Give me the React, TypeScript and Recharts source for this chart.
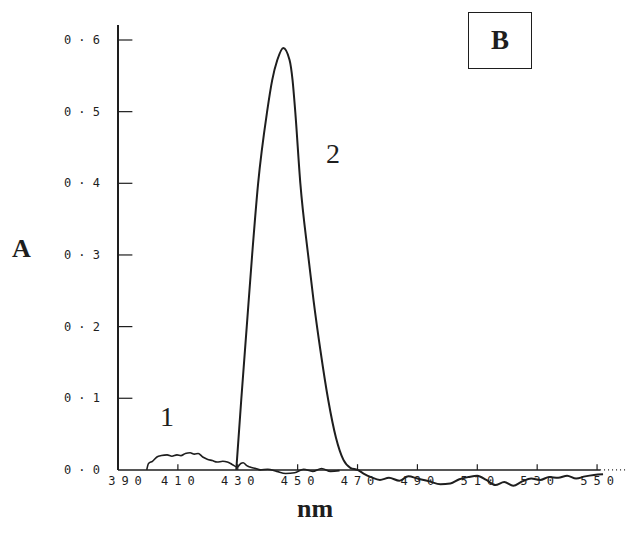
import { LineChart, Line, XAxis, YAxis, ReferenceLine } from "recharts";

// wavelength ticks (nm) and absorbance ticks
const xTicks = [390, 410, 430, 450, 470, 490, 510, 530, 550];
const yTicks = [0, 0.1, 0.2, 0.3, 0.4, 0.5, 0.6];
const yTickLabels = ["0 · 0", "0 · 1", "0 · 2", "0 · 3", "0 · 4", "0 · 5", "0 · 6"];

// curve 1 (low band)
const curve1Nm = [
  399.6, 400.2, 401.5, 403, 404.5, 406.4, 408, 409.7, 411, 412.5, 414.1, 415.5,
  416.8, 418.3, 419.8, 421.5, 423.1, 425, 426.5, 428, 429.8, 431, 431.8, 433,
  434.1, 436, 437.5, 440, 443, 446, 449, 452, 455, 458, 461, 464,
];
const curve1Abs = [
  0, 0.009, 0.012, 0.018, 0.02, 0.021, 0.019, 0.021, 0.02, 0.023, 0.024, 0.022,
  0.023, 0.018, 0.015, 0.013, 0.011, 0.012, 0.011, 0.008, 0.004, 0.009, 0.01, 0.006,
  0.004, 0.002, 0, 0.001, -0.002, -0.005, -0.004, 0.001, -0.002, 0.002, -0.002, -0.001,
];

// curve 2 (main peak)
const curve2Nm = [
  429.5, 431.2, 433, 434.8, 436.8, 439.8, 441.5, 443.2, 445.2, 447.3, 448.3, 449.2,
  450.9, 453.5, 455.3, 457.6, 460.2, 462.8, 465.3, 467.6, 470, 472, 474.5, 477.5,
  480.5, 484, 487, 490, 494, 497.7, 501, 504, 507, 510, 513, 516, 519, 522, 525,
  528, 531, 534, 537, 540, 543, 546, 549, 552,
];
const curve2Abs = [
  0, 0.1, 0.2, 0.3, 0.4, 0.5, 0.544, 0.572, 0.589, 0.572, 0.544, 0.5,
  0.4, 0.3, 0.237, 0.167, 0.098, 0.045, 0.014, 0.003, 0, -0.005, -0.01, -0.014,
  -0.011, -0.015, -0.009, -0.012, -0.016, -0.02, -0.019, -0.013, -0.01, -0.008, -0.014, -0.021, -0.017, -0.022, -0.016,
  -0.012, -0.014, -0.01, -0.011, -0.008, -0.012, -0.009, -0.007, -0.006,
];

const curve1 = curve1Nm.map((x, i) => ({ x, a: curve1Abs[i] }));
const curve2 = curve2Nm.map((x, i) => ({ x, a: curve2Abs[i] }));

const INK = "#1e1e1e";
const TICK_FONT = "'DejaVu Sans Mono', 'Liberation Mono', monospace";

function XTick(props: any) {
  const { x, y, payload } = props;
  const shift = payload.value === 390 ? 7 : 0;
  return (
    <text
      x={x + shift + 3}
      y={y - 14}
      textAnchor="middle"
      dominantBaseline="central"
      fontFamily={TICK_FONT}
      fontSize={12}
      letterSpacing={6}
      fill={INK}
    >
      {payload.value}
    </text>
  );
}

function YTick(props: any) {
  const { x, y, index } = props;
  return (
    <text
      x={x - 18}
      y={y}
      textAnchor="end"
      dominantBaseline="central"
      fontFamily={TICK_FONT}
      fontSize={12}
      fill={INK}
    >
      {yTickLabels[index]}
    </text>
  );
}

export default function App() {
  return (
    <div
      style={{
        position: "absolute",
        left: 0,
        top: 0,
        width: 630,
        height: 541,
        background: "#fff",
        fontFamily: "'Liberation Serif', serif",
        color: INK,
      }}
    >
      <LineChart
        width={630}
        height={541}
        margin={{ top: 18.5, right: 3, bottom: 0, left: 0 }}
      >
        <XAxis
          type="number"
          dataKey="x"
          domain={[390, 560]}
          ticks={xTicks}
          axisLine={false}
          tickLine={false}
          tickSize={0}
          tickMargin={0}
          height={46}
          tick={<XTick />}
          interval={0}
        />
        <YAxis
          type="number"
          domain={[-0.035, 0.63]}
          ticks={yTicks}
          axisLine={false}
          tickLine={false}
          tickSize={0}
          tickMargin={0}
          width={118}
          tick={<YTick />}
          interval={0}
        />
        {/* axes drawn as segments so they stop at zero */}
        <ReferenceLine
          segment={[{ x: 390, y: 0 }, { x: 390, y: 0.621 }]}
          stroke={INK}
          strokeWidth={2}
        />
        <ReferenceLine
          segment={[{ x: 390, y: 0 }, { x: 551, y: 0 }]}
          stroke={INK}
          strokeWidth={1.5}
        />
        <ReferenceLine
          segment={[{ x: 551, y: 0 }, { x: 560, y: 0 }]}
          stroke={INK}
          strokeWidth={1.2}
          strokeDasharray="1 3"
        />
        {xTicks.slice(1).map((v) => (
          <ReferenceLine
            key={`xt-${v}`}
            segment={[{ x: v, y: 0 }, { x: v, y: 0.008 }]}
            stroke={INK}
            strokeWidth={1.2}
          />
        ))}
        {yTicks.slice(1).map((v) => (
          <ReferenceLine
            key={`yt-${v}`}
            segment={[{ x: 390, y: v }, { x: 394.8, y: v }]}
            stroke={INK}
            strokeWidth={1.2}
          />
        ))}
        <Line
          data={curve1}
          dataKey="a"
          type="monotone"
          stroke={INK}
          strokeWidth={1.6}
          dot={false}
          isAnimationActive={false}
        />
        <Line
          data={curve2}
          dataKey="a"
          type="monotone"
          stroke={INK}
          strokeWidth={2}
          dot={false}
          isAnimationActive={false}
        />
      </LineChart>

      <div style={{ position: "absolute", left: 12, top: 234, fontSize: 26, fontWeight: "bold" }}>A</div>
      <div style={{ position: "absolute", left: 297, top: 494, fontSize: 26, fontWeight: "bold" }}>nm</div>
      <div
        style={{
          position: "absolute",
          left: 468,
          top: 12,
          width: 62,
          height: 55,
          border: `1.5px solid ${INK}`,
          display: "flex",
          alignItems: "center",
          justifyContent: "center",
          fontSize: 27,
          fontWeight: "bold",
        }}
      >
        B
      </div>
      <div style={{ position: "absolute", left: 326, top: 138, fontSize: 28 }}>2</div>
      <div style={{ position: "absolute", left: 160, top: 401, fontSize: 28 }}>1</div>
    </div>
  );
}
